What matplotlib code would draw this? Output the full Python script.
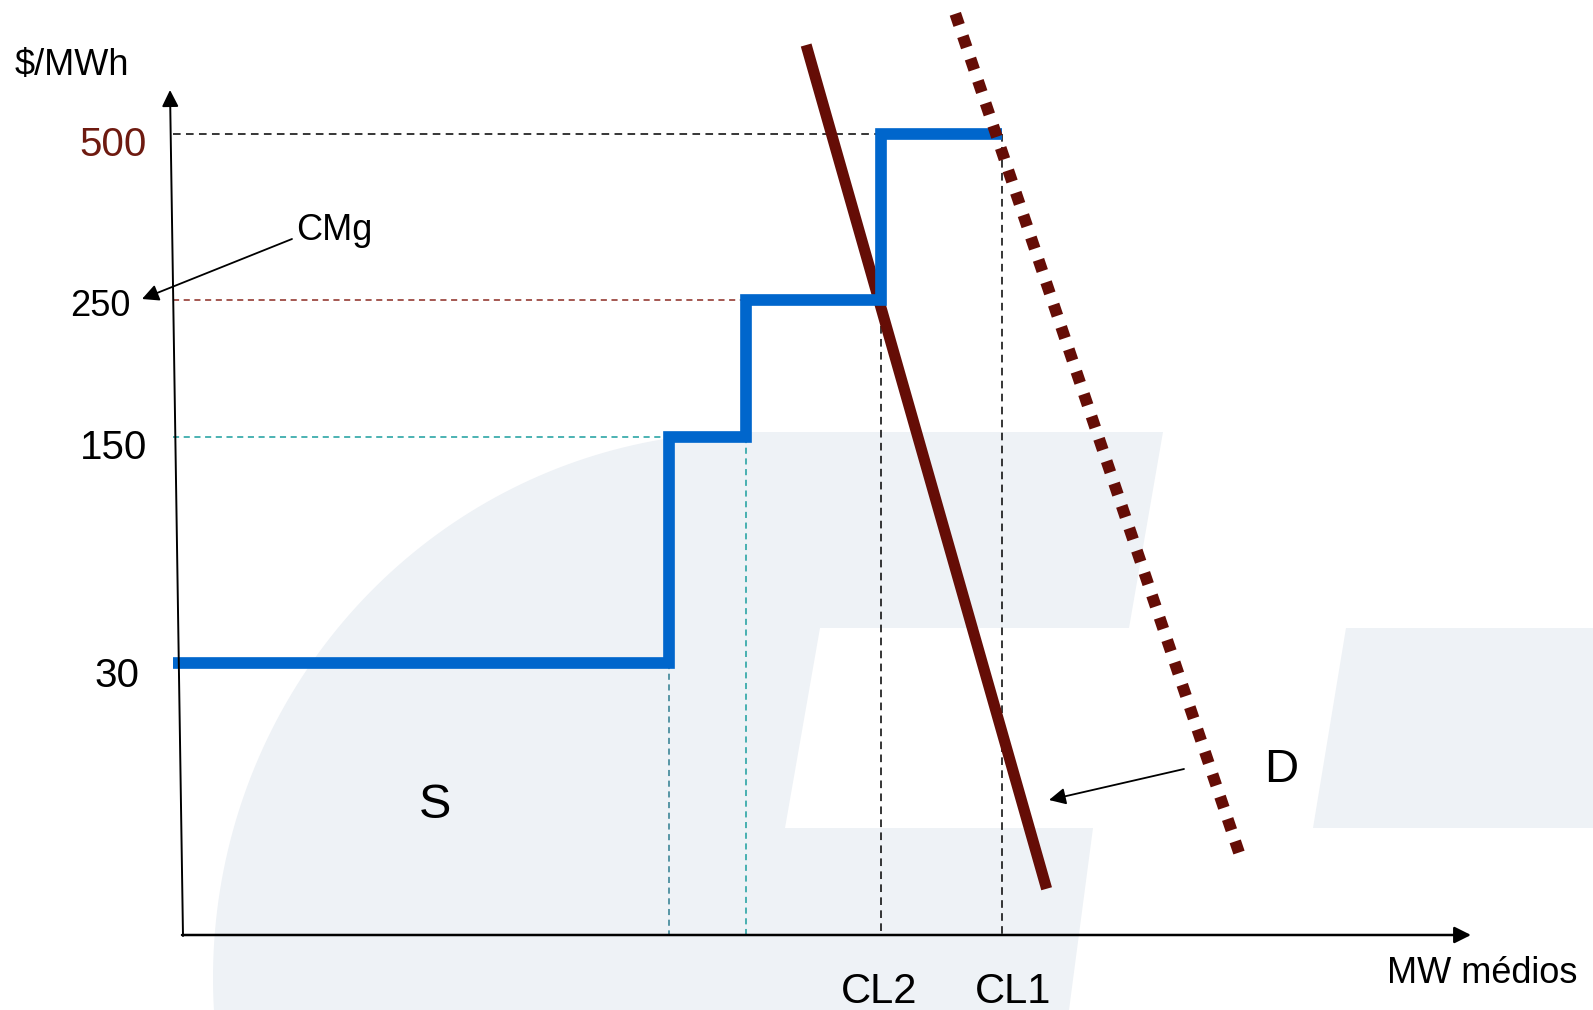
import numpy as np
import matplotlib
matplotlib.use("Agg")
import matplotlib.pyplot as plt
import matplotlib.transforms as mtransforms
from matplotlib.patches import Polygon

plt.rcParams["font.family"] = ["Liberation Sans", "DejaVu Sans"]

W, H = 1593, 1010

# --- data -------------------------------------------------------------
price_ticks = [30, 150, 250, 500]              # $/MWh levels of the supply steps
tick_labels = ["30", "150", "250", "500"]
supply_q = [-0.9, 37.6, 43.6, 54.1, 63.5]      # MW médios, edges of the steps
supply_p = [30, 150, 250, 500]                 # price of each step
cl2, cl1 = 54.1, 63.5                          # cleared load, low / high demand
demand_low_q = [48.3, 67.0]                    # solid demand line
demand_low_p = [634, 5.1]
demand_high_q = [59.9, 82.1]                   # dotted demand line
demand_high_p = [681, 8.5]

# --- layout of the slide (pixel rows of each price level) ---------------
level_prices = np.array([0, 30, 150, 250, 500], float)
level_rows = np.array([935, 663, 437, 300, 134], float)
level_pos = H - level_rows
x0_px, px_per_mw = 185, 12.86

s_lo = (level_pos[1] - level_pos[0]) / (level_prices[1] - level_prices[0])
s_hi = (level_pos[-1] - level_pos[-2]) / (level_prices[-1] - level_prices[-2])


def fwd(p):
    p = np.asarray(p, float)
    out = np.interp(p, level_prices, level_pos)
    out = np.where(p < level_prices[0], level_pos[0] + (p - level_prices[0]) * s_lo, out)
    out = np.where(p > level_prices[-1], level_pos[-1] + (p - level_prices[-1]) * s_hi, out)
    return out


def inv(y):
    y = np.asarray(y, float)
    out = np.interp(y, level_pos, level_prices)
    out = np.where(y < level_pos[0], level_prices[0] + (y - level_pos[0]) / s_lo, out)
    out = np.where(y > level_pos[-1], level_prices[-1] + (y - level_pos[-1]) / s_hi, out)
    return out


fig = plt.figure(figsize=(W / 100, H / 100), dpi=100)
ax = fig.add_axes([0, 0, 1, 1])
ax.set_yscale("function", functions=(fwd, inv))
ax.set_xlim(-x0_px / px_per_mw, (W - x0_px) / px_per_mw)
ax.set_ylim(float(inv(0)), float(inv(H)))
ax.axis("off")

# pixel transform (y downwards) for the slide decorations
px = mtransforms.Affine2D().scale(1 / W, -1 / H).translate(0, 1) + fig.transFigure

# background watermark (stylised logo)
wm = "#EEF2F6"
th = np.linspace(np.pi + np.arcsin(32 / 546), np.pi / 2, 90)
arc_x = 750 + 537 * np.cos(th)
arc_y = 978 - 546 * np.sin(th)
logo = list(zip(arc_x, arc_y)) + [(1163, 432), (1129, 628), (820, 628), (785, 828),
                                   (1093, 828), (1069, 1010)]
ax.add_patch(Polygon(logo, closed=True, facecolor=wm, edgecolor="none",
                     transform=px, zorder=0))
ax.add_patch(Polygon([(1346, 628), (1593, 628), (1593, 828), (1313, 828)], closed=True,
                     facecolor=wm, edgecolor="none", transform=px, zorder=0))

# guide lines
teal = "#1A9E9E"
xl = supply_q[0]
ax.plot([xl, supply_q[1]], [150, 150], color=teal, lw=1.1, dashes=(4, 3), zorder=1)
ax.plot([xl, supply_q[2]], [250, 250], color="#8B2A22", lw=1.1, dashes=(4, 3), zorder=1)
ax.plot([xl, supply_q[3]], [500, 500], color="black", lw=1.1, dashes=(5, 3.5), zorder=1)
ax.plot([supply_q[1]] * 2, [30, 0], color="#2E7D8F", lw=1.1, dashes=(4, 3), zorder=1)
ax.plot([supply_q[2]] * 2, [150, 0], color=teal, lw=1.1, dashes=(4, 3), zorder=1)
ax.plot([cl2] * 2, [250, 0], color="black", lw=1.1, dashes=(5, 3.5), zorder=1)
ax.plot([cl1] * 2, [500, 0], color="black", lw=1.1, dashes=(5, 3.5), zorder=1)

# demand and supply
ax.plot(demand_low_q, demand_low_p, color="#650D06", lw=8, solid_capstyle="butt", zorder=3)
ax.step(supply_q, supply_p + [supply_p[-1]], where="post", color="#0066CC", lw=8.4,
        solid_joinstyle="miter", solid_capstyle="butt", zorder=4)
ax.plot(demand_high_q, demand_high_p, color="#650D06", lw=8.5, linestyle=(0, (1, 1)),
        dash_capstyle="butt", zorder=5)

# axes drawn as arrows
arrow = dict(arrowstyle="-|>", mutation_scale=25, lw=1.4, color="black",
             shrinkA=0, shrinkB=0)
ax.annotate("", xy=(170, 90), xytext=(183, 936), xycoords=px, textcoords=px,
            arrowprops=arrow, zorder=6)
ax.annotate("", xy=(1471, 935), xytext=(182, 935), xycoords=px, textcoords=px,
            arrowprops=dict(arrow, lw=1.8), zorder=6)

# price labels
label_x = [139, 147, 131, 147]
label_dy = [24, 22, 16, 22]
label_size = [29, 29, 26, 29]
label_color = ["black", "black", "black", "#6E1A10"]
for p, lab, lx, dy, fs, c in zip(price_ticks, tick_labels, label_x, label_dy,
                                  label_size, label_color):
    y_px = H - float(fwd(p)) + dy
    ax.text(lx, y_px, lab, transform=px, ha="right", va="baseline", fontsize=fs, color=c)

ax.text(15, 75, "$/MWh", transform=px, ha="left", va="baseline", fontsize=26)
ax.text(296, 240, "CMg", transform=px, ha="left", va="baseline", fontsize=26)
ax.annotate("", xy=(142, 299), xytext=(292, 239), xycoords=px, textcoords=px,
            arrowprops=dict(arrow, lw=1.3), zorder=6)
ax.text(435, 818, "S", transform=px, ha="center", va="baseline", fontsize=35)
ax.text(1281, 782, "D", transform=px, ha="center", va="baseline", fontsize=34)
ax.annotate("", xy=(1049, 800), xytext=(1184, 769), xycoords=px, textcoords=px,
            arrowprops=dict(arrow, lw=1.3), zorder=6)
ax.text(879, 1003, "CL2", transform=px, ha="center", va="baseline", fontsize=30)
ax.text(1013, 1003, "CL1", transform=px, ha="center", va="baseline", fontsize=30)
ax.text(1482, 983, "MW médios", transform=px, ha="center", va="baseline", fontsize=26)

fig.savefig("out.png", dpi=100)
